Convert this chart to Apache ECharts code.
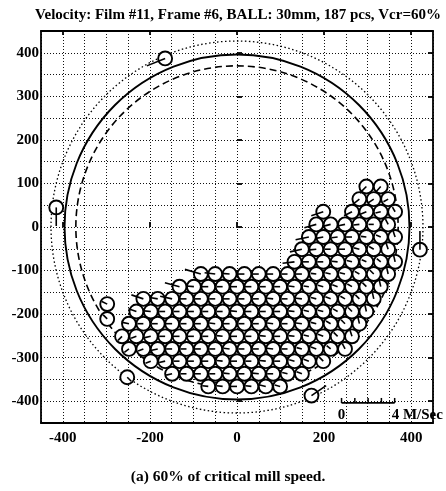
<!DOCTYPE html>
<html><head><meta charset="utf-8">
<script src="https://cdn.jsdelivr.net/npm/echarts@6/dist/echarts.min.js"></script>
<style>html,body{margin:0;padding:0;background:#fff}#c{width:446px;height:491px}</style>
</head><body><div id="c"></div>
<script>
const titleText = 'Velocity: Film #11, Frame #6, BALL: 30mm, 187 pcs, Vcr=60%';
const captionText = '(a) 60% of critical mill speed.';
const xTickValues = [-400, -200, 0, 200, 400];
const yTickValues = [-400, -300, -200, -100, 0, 100, 200, 300, 400];
const axisMin = -450, axisMax = 450, gridStep = 50;
const ballRadius = 16;            // mm (30 mm balls, drawn outline)
const unitsPerMs = 30.5;          // mm of arrow per 1 m/s (scale bar)
// reference circles: [radius mm, style]
const refCircles = [[396, 'solid'], [370, 'dashed'], [427, 'dotted']];
// velocity scale bar: origin (mm) and tick marks (m/s)
const scaleOrigin = [240, -404];
const scaleTicks = [0, 1, 2, 3, 4];
const scaleLabels = [[0, '0'], [4, '4 M/Sec']];

// balls in the charge: [x mm, y mm, vx m/s, vy m/s]
const bedBalls = [
 [-66,-366,-0.45,0.05],[-33,-366,-0.45,0.05],[0,-366,-0.5,0],[33,-366,-0.45,0.05],[66,-366,-0.45,0.1],[99,-366,-0.4,0.1],
 [-149,-337,-0.45,-0.1],[-116,-337,-0.45,0],[-83,-337,-0.5,0],[-50,-337,-0.45,0],[-17,-337,-0.45,0.05],[17,-337,-0.45,0],[50,-337,-0.5,0.05],[83,-337,-0.45,0],[116,-337,-0.4,0.1],[149,-337,-0.4,0.15],
 [-198,-308,-0.4,-0.15],[-165,-308,-0.45,-0.1],[-132,-308,-0.45,0],[-99,-308,-0.45,0],[-66,-308,-0.5,0],[-33,-308,-0.45,0.05],[0,-308,-0.45,0],[33,-308,-0.45,0],[66,-308,-0.45,0.05],[99,-308,-0.45,0],[132,-308,-0.4,0.1],[165,-308,-0.4,0.15],[198,-308,-0.3,0.3],
 [-248,-280,-0.35,-0.25],[-215,-280,-0.4,-0.15],[-182,-280,-0.45,-0.1],[-149,-280,-0.45,0],[-116,-280,-0.45,0],[-83,-280,-0.5,0],[-50,-280,-0.45,0],[-17,-280,-0.45,0.05],[17,-280,-0.45,0],[50,-280,-0.45,0],[83,-280,-0.5,0.05],[116,-280,-0.45,0],[149,-280,-0.4,0.1],[182,-280,-0.4,0.15],[215,-280,-0.3,0.25],[248,-280,-0.2,0.4],
 [-264,-251,-0.3,-0.3],[-231,-251,-0.4,-0.15],[-198,-251,-0.45,-0.1],[-165,-251,-0.45,0],[-132,-251,-0.5,0],[-99,-251,-0.45,0],[-66,-251,-0.45,0],[-33,-251,-0.45,0.05],[0,-251,-0.5,0],[33,-251,-0.45,0],[66,-251,-0.45,0.05],[99,-251,-0.45,0],[132,-251,-0.45,0.05],[165,-251,-0.4,0.1],[198,-251,-0.4,0.15],[231,-251,-0.3,0.3],[264,-251,-0.15,0.45],
 [-248,-222,-0.5,0.1],[-215,-222,-0.45,0],[-182,-222,-0.45,0],[-149,-222,-0.5,0],[-116,-222,-0.45,0],[-83,-222,-0.45,0],[-50,-222,-0.45,0.05],[-17,-222,-0.5,0],[17,-222,-0.45,0],[50,-222,-0.45,0],[83,-222,-0.45,0.05],[116,-222,-0.45,0],[149,-222,-0.45,0.05],[182,-222,-0.4,0.1],[215,-222,-0.35,0.2],[248,-222,-0.3,0.3],[281,-222,-0.1,0.45],
 [-231,-194,-0.6,0.2],[-198,-194,-0.5,0.05],[-165,-194,-0.45,0],[-132,-194,-0.45,0],[-99,-194,-0.5,0],[-66,-194,-0.45,0],[-33,-194,-0.45,0],[0,-194,-0.45,0.05],[33,-194,-0.5,0],[66,-194,-0.45,0],[99,-194,-0.45,0],[132,-194,-0.45,0.05],[165,-194,-0.4,0.1],[198,-194,-0.4,0.1],[231,-194,-0.35,0.2],[264,-194,-0.3,0.3],[297,-194,-0.1,0.45],
 [-215,-165,-0.9,0.3],[-182,-165,-0.6,0.1],[-149,-165,-0.9,0.2],[-116,-165,-0.5,0],[-83,-165,-0.45,0],[-50,-165,-0.45,0],[-17,-165,-0.5,0],[17,-165,-0.45,0],[50,-165,-0.45,0],[83,-165,-0.45,0.05],[116,-165,-0.45,0],[149,-165,-0.45,0.05],[182,-165,-0.4,0.1],[215,-165,-0.4,0.15],[248,-165,-0.35,0.2],[281,-165,-0.3,0.3],[314,-165,-0.1,0.45],
 [-132,-137,-1.1,0.3],[-99,-137,-0.6,0.05],[-66,-137,-0.5,0],[-33,-137,-0.45,0],[0,-137,-0.45,0],[33,-137,-0.5,0],[66,-137,-0.45,0],[99,-137,-0.45,0],[132,-137,-0.45,0.05],[165,-137,-0.4,0.05],[198,-137,-0.4,0.1],[231,-137,-0.4,0.15],[264,-137,-0.35,0.2],[297,-137,-0.3,0.3],[330,-137,-0.1,0.45],
 [-83,-108,-1.2,0.35],[-50,-108,-0.8,0.1],[-17,-108,-0.6,0.05],[17,-108,-0.55,0],[50,-108,-0.5,0],[83,-108,-0.5,0],[116,-108,-0.45,0],[149,-108,-0.45,0],[182,-108,-0.4,0.05],[215,-108,-0.4,0.1],[248,-108,-0.4,0.1],[281,-108,-0.35,0.2],[314,-108,-0.3,0.3],[347,-108,-0.1,0.45],
 [132,-80,-0.9,-0.1],[165,-80,-0.5,0],[198,-80,-0.45,0],[231,-80,-0.45,0.05],[264,-80,-0.4,0.1],[297,-80,-0.35,0.15],[330,-80,-0.3,0.25],[363,-80,-0.1,0.45],
 [149,-51,-0.9,-0.2],[182,-51,-0.5,-0.05],[215,-51,-0.45,0],[248,-51,-0.45,0],[281,-51,-0.4,0.1],[314,-51,-0.35,0.2],[347,-51,-0.15,0.45],
 [165,-23,-1.0,-0.2],[198,-23,-0.55,-0.1],[231,-23,-0.45,-0.05],[264,-23,-0.45,0],[297,-23,-0.4,0.05],[330,-23,-0.35,0.15],[363,-23,-0.15,0.45],
 [182,6,-0.9,-0.25],[215,6,-0.6,-0.15],[248,6,-0.5,-0.1],[281,6,-0.45,-0.05],[314,6,-0.4,0],[347,6,-0.2,0.4],
 [198,35,-0.9,-0.3],[264,35,-0.6,-0.3],[297,35,-0.5,-0.2],[330,35,-0.4,-0.1],[363,35,-0.2,0.35],
 [281,64,-0.5,-0.4],[314,64,-0.45,-0.3],[347,64,-0.35,-0.2],
 [297,93,-0.5,-0.5],[330,93,-0.4,-0.45]
];
// balls in flight / detached: [x, y, vx, vy]
const looseBalls = [
 [-298,-177,-0.4,0.2],[-298,-211,-0.3,0.3],[-415,45,0,-1.4],[-165,387,-1.38,-0.56],
 [420,-52,0,1.4],[-252,-345,0.3,-0.3],[171,-387,1.1,0.75]
];

const FONT = '"Liberation Serif", "DejaVu Serif", serif';
const chart = echarts.init(document.getElementById('c'), null, {renderer: 'canvas'});

function ballItem(params, api) {
  const x = api.value(0), y = api.value(1), vx = api.value(2), vy = api.value(3);
  const c = api.coord([x, y]);
  const r = api.size([ballRadius, 0])[0];
  const e = api.coord([x + vx * unitsPerMs, y + vy * unitsPerMs]);
  return {type: 'group', children: [
    {type: 'circle', shape: {cx: c[0], cy: c[1], r: r}, style: {fill: '#fff', stroke: '#000', lineWidth: 1.9}},
    {type: 'line', shape: {x1: c[0], y1: c[1], x2: e[0], y2: e[1]}, style: {stroke: '#000', lineWidth: 1.6}}
  ]};
}

const dashFor = {solid: null, dashed: [7, 4], dotted: [1.5, 2.5]};
const widthFor = {solid: 1.9, dashed: 1.6, dotted: 1.3};

const baseAxis = {type: 'value', min: axisMin, max: axisMax, interval: gridStep};
const frameLine = {show: true, onZero: false, lineStyle: {color: '#000', width: 1.8}};
const labelStyle = {fontFamily: FONT, fontWeight: 'bold', fontSize: 15, color: '#000'};

chart.setOption({
  animation: false,
  backgroundColor: '#fff',
  grid: {left: 41, top: 31, width: 392, height: 392, containLabel: false},
  xAxis: [
    Object.assign({}, baseAxis, {position: 'bottom', axisLine: frameLine, axisTick: {show: false}, axisLabel: {show: false},
      splitLine: {show: true, lineStyle: {color: '#111', type: [1, 2], width: 1}}}),
    Object.assign({}, baseAxis, {position: 'bottom', axisLine: {show: false},
      axisTick: {show: true, inside: true, length: 5, customValues: xTickValues, lineStyle: {color: '#000', width: 1.8}},
      axisLabel: Object.assign({show: true, margin: 8, customValues: xTickValues}, labelStyle), splitLine: {show: false}}),
    Object.assign({}, baseAxis, {position: 'top', axisLine: frameLine,
      axisTick: {show: true, inside: true, length: 4, customValues: xTickValues, lineStyle: {color: '#000', width: 1.8}},
      axisLabel: {show: false}, splitLine: {show: false}})
  ],
  yAxis: [
    Object.assign({}, baseAxis, {position: 'left', axisLine: frameLine, axisTick: {show: false}, axisLabel: {show: false},
      splitLine: {show: true, lineStyle: {color: '#111', type: [1, 2], width: 1}}}),
    Object.assign({}, baseAxis, {position: 'left', axisLine: {show: false},
      axisTick: {show: true, inside: true, length: 5, customValues: yTickValues, lineStyle: {color: '#000', width: 1.8}},
      axisLabel: Object.assign({show: true, margin: 2, customValues: yTickValues}, labelStyle), splitLine: {show: false}}),
    Object.assign({}, baseAxis, {position: 'right', axisLine: frameLine,
      axisTick: {show: true, inside: true, length: 5, customValues: yTickValues, lineStyle: {color: '#000', width: 1.8}},
      axisLabel: {show: false}, splitLine: {show: false}})
  ],
  graphic: [
    {type: 'text', x: 238, y: 15, style: {text: titleText, font: 'bold 15px ' + FONT, fill: '#000', textAlign: 'center', textVerticalAlign: 'middle'}},
    {type: 'text', x: 228, y: 477, style: {text: captionText, font: 'bold 15.5px ' + FONT, fill: '#000', textAlign: 'center', textVerticalAlign: 'middle'}}
  ],
  series: [
    {type: 'custom', name: 'circles', xAxisIndex: 0, yAxisIndex: 0, silent: true, clip: false,
      data: refCircles.map(d => [0, 0, d[0], d[1]]),
      renderItem: function (params, api) {
        const d = refCircles[params.dataIndex];
        const c = api.coord([0, 0]);
        const r = api.size([d[0], 0])[0];
        return {type: 'circle', shape: {cx: c[0], cy: c[1], r: r},
          style: {fill: null, stroke: '#000', lineWidth: widthFor[d[1]], lineDash: dashFor[d[1]]}};
      }},
    {type: 'custom', name: 'bed', xAxisIndex: 0, yAxisIndex: 0, silent: true, clip: false, data: bedBalls, renderItem: ballItem},
    {type: 'custom', name: 'loose', xAxisIndex: 0, yAxisIndex: 0, silent: true, clip: false, data: looseBalls, renderItem: ballItem},
    {type: 'custom', name: 'scale', xAxisIndex: 0, yAxisIndex: 0, silent: true, clip: false,
      data: [[scaleOrigin[0], scaleOrigin[1]]],
      renderItem: function (params, api) {
        const o = api.coord(scaleOrigin);
        const end = api.coord([scaleOrigin[0] + scaleTicks[scaleTicks.length - 1] * unitsPerMs, scaleOrigin[1]]);
        const children = [{type: 'line', shape: {x1: o[0], y1: o[1], x2: end[0], y2: end[1]}, style: {stroke: '#000', lineWidth: 1.8}}];
        scaleTicks.forEach(t => {
          const p = api.coord([scaleOrigin[0] + t * unitsPerMs, scaleOrigin[1]]);
          children.push({type: 'line', shape: {x1: p[0], y1: p[1], x2: p[0], y2: p[1] - 5}, style: {stroke: '#000', lineWidth: 1.5}});
        });
        scaleLabels.forEach(l => {
          const p = api.coord([scaleOrigin[0] + l[0] * unitsPerMs, scaleOrigin[1]]);
          const isFirst = l[0] === 0;
          children.push({type: 'text', x: isFirst ? p[0] : p[0] - 3, y: p[1] + 12,
            style: {text: l[1], font: 'bold 15px ' + FONT, fill: '#000', textAlign: isFirst ? 'center' : 'left', textVerticalAlign: 'middle'}});
        });
        return {type: 'group', children: children};
      }}
  ]
});
</script>
</body></html>
